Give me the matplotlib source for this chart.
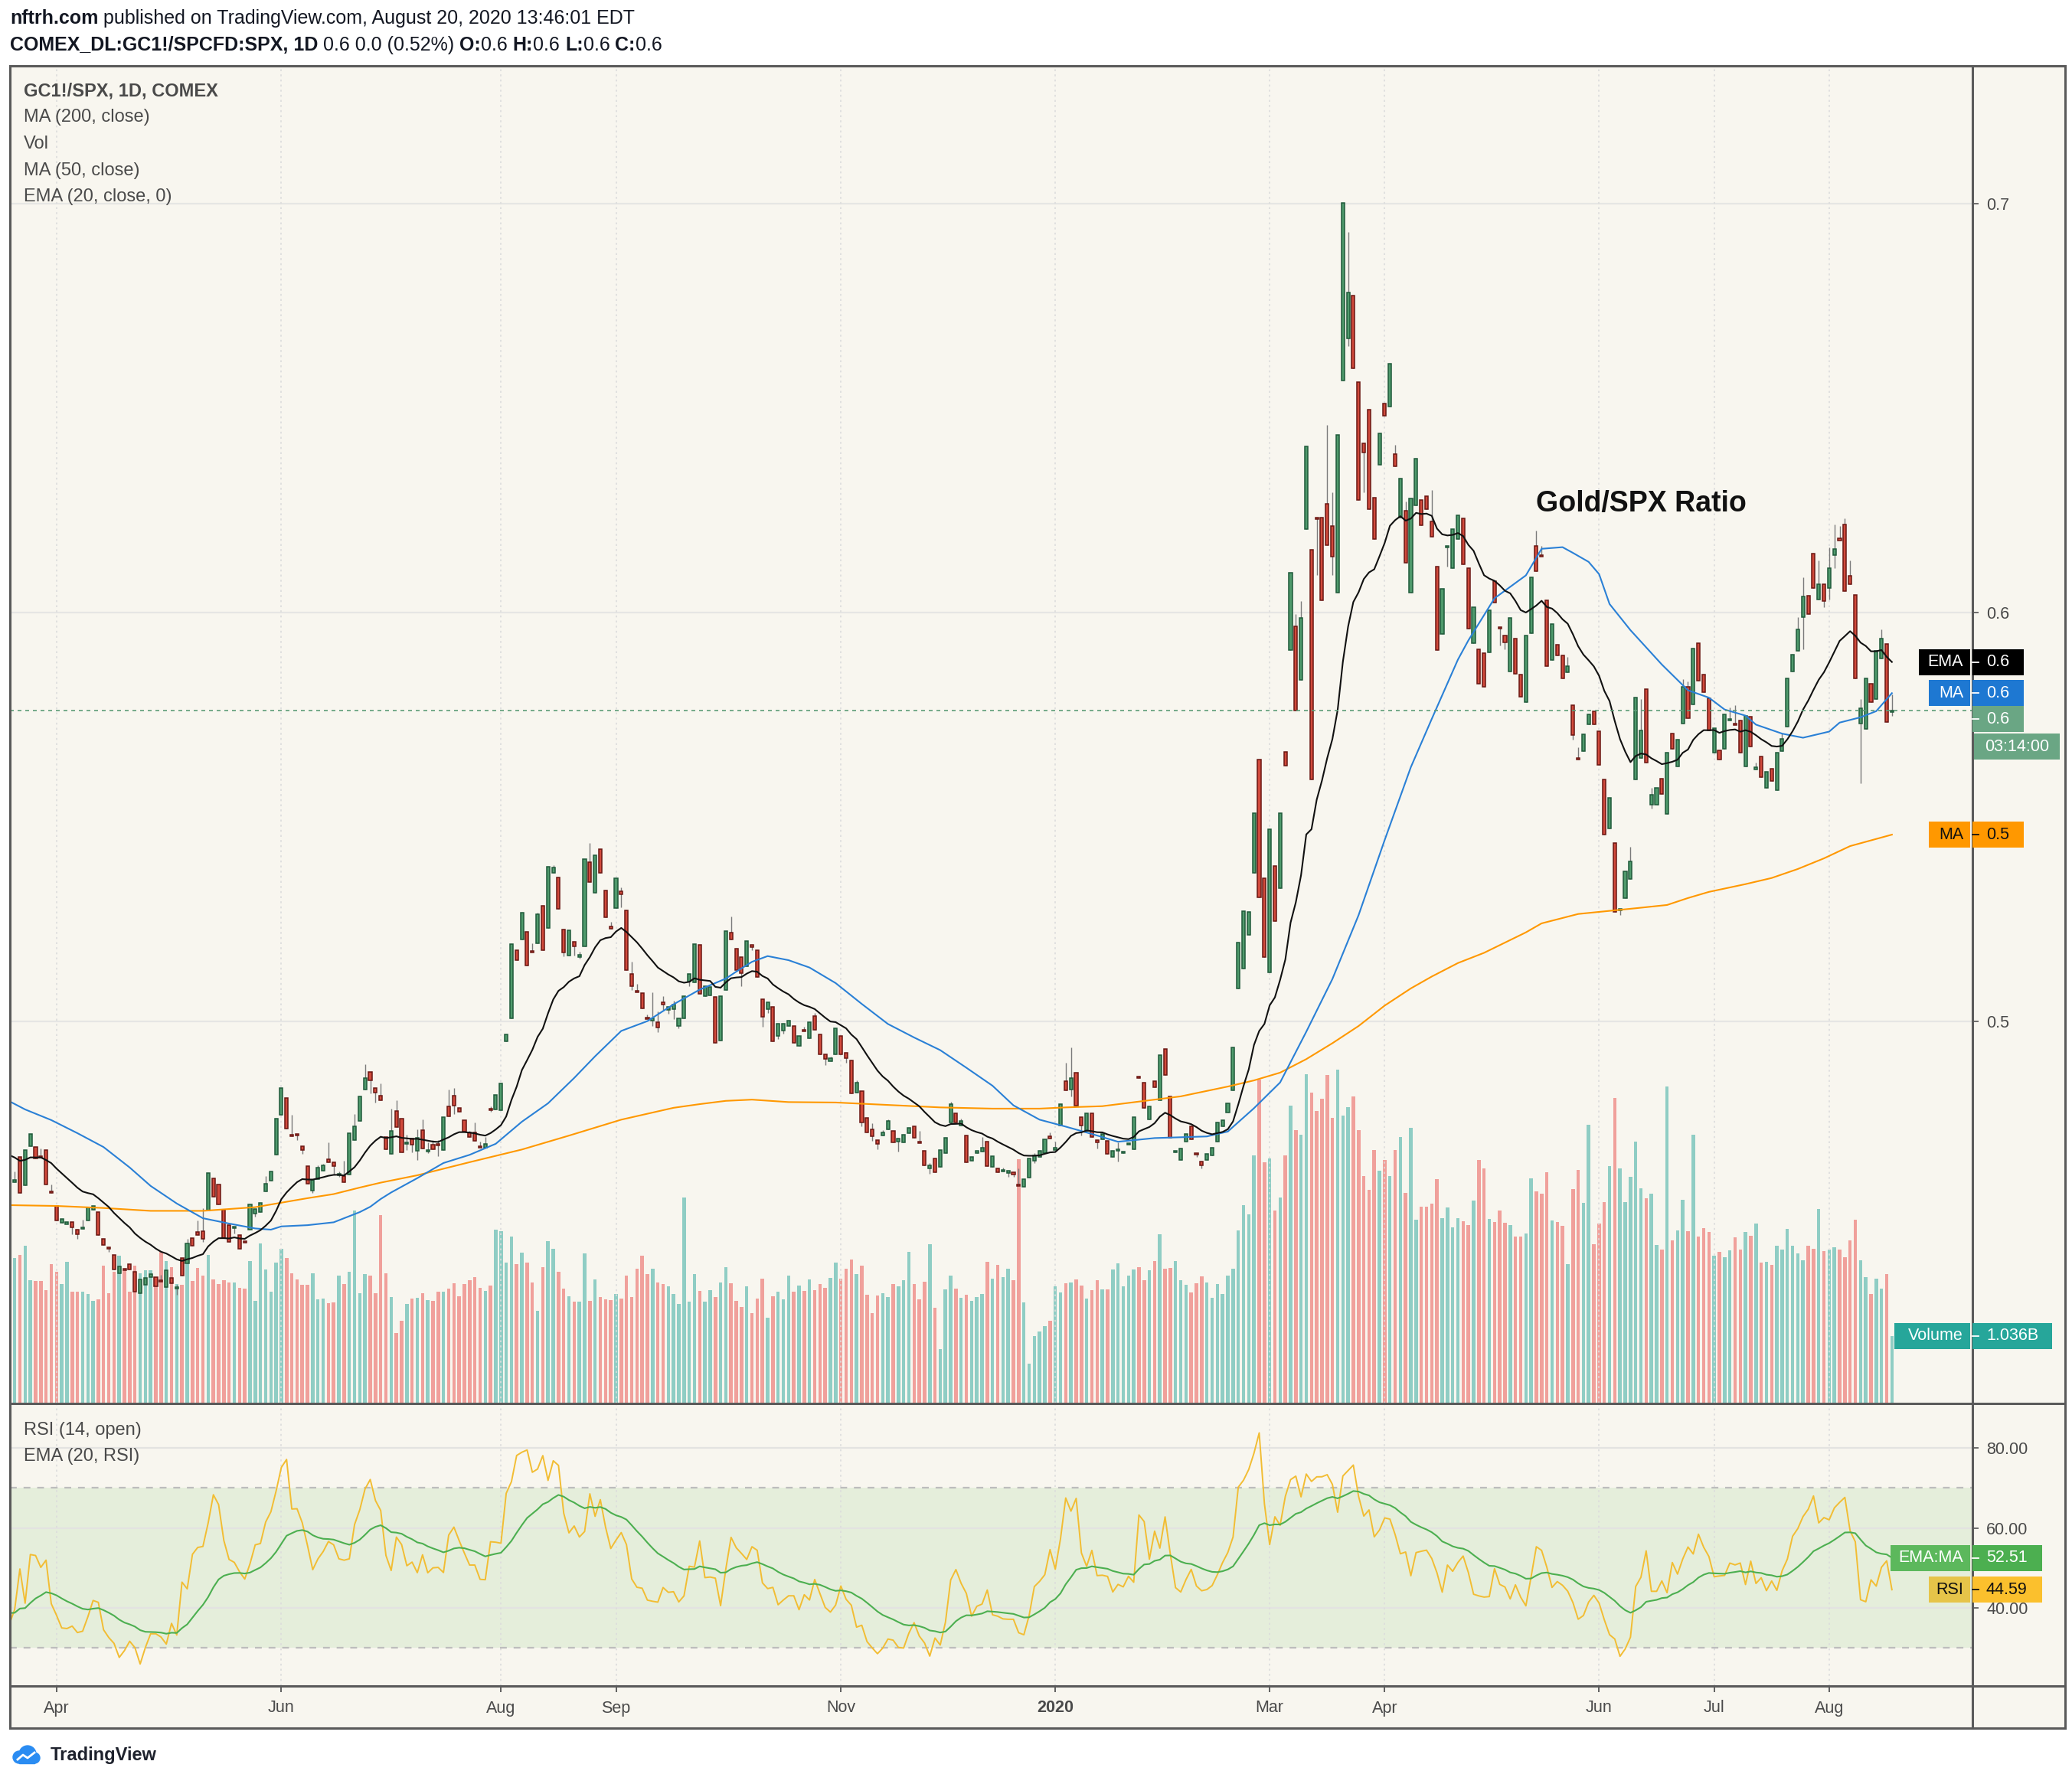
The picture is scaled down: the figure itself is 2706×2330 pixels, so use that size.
import numpy as np
import pandas as pd
import matplotlib
matplotlib.use("Agg")
import matplotlib.pyplot as plt
from matplotlib.patches import Rectangle, Circle
from matplotlib.lines import Line2D
from matplotlib import transforms

plt.rcParams['font.family'] = ['Liberation Sans', 'DejaVu Sans']

# ---- data (bars from 2019-03-19 to 2020-08-20) ----
opens = [
    0.4590, 0.4608, 0.4668, 0.4599, 0.4696, 0.4694, 0.4670, 0.4685, 0.4583, 0.4549,
    0.4508, 0.4506, 0.4510, 0.4491, 0.4493, 0.4514, 0.4539, 0.4535, 0.4469, 0.4447,
    0.4430, 0.4385, 0.4394, 0.4406, 0.4388, 0.4336, 0.4357, 0.4375, 0.4375, 0.4367,
    0.4350, 0.4374, 0.4348, 0.4422, 0.4409, 0.4471, 0.4485, 0.4487, 0.4537, 0.4616,
    0.4601, 0.4540, 0.4502, 0.4496, 0.4477, 0.4462, 0.4491, 0.4531, 0.4534, 0.4584,
    0.4611, 0.4675, 0.4772, 0.4813, 0.4722, 0.4723, 0.4695, 0.4646, 0.4586, 0.4615,
    0.4635, 0.4663, 0.4656, 0.4626, 0.4623, 0.4626, 0.4711, 0.4757, 0.4834, 0.4876,
    0.4837, 0.4818, 0.4717, 0.4676, 0.4782, 0.4762, 0.4702, 0.4713, 0.4683, 0.4735,
    0.4684, 0.4698, 0.4699, 0.4686, 0.4792, 0.4819, 0.4788, 0.4758, 0.4728, 0.4728,
    0.4693, 0.4692, 0.4786, 0.4785, 0.4783, 0.4951, 0.5007, 0.5175, 0.5201, 0.5219,
    0.5172, 0.5192, 0.5283, 0.5228, 0.5364, 0.5353, 0.5225, 0.5162, 0.5195, 0.5160,
    0.5184, 0.5389, 0.5315, 0.5421, 0.5321, 0.5233, 0.5278, 0.5319, 0.5272, 0.5117,
    0.5074, 0.5069, 0.5009, 0.5003, 0.4999, 0.5048, 0.5028, 0.5030, 0.4990, 0.5007,
    0.5098, 0.5095, 0.5187, 0.5062, 0.5064, 0.5060, 0.4954, 0.5078, 0.5217, 0.5178,
    0.5157, 0.5135, 0.5187, 0.5175, 0.5055, 0.5031, 0.5035, 0.4964, 0.4978, 0.4990,
    0.4990, 0.4940, 0.4978, 0.4960, 0.5013, 0.4968, 0.4920, 0.4903, 0.4919, 0.4964,
    0.4923, 0.4904, 0.4826, 0.4830, 0.4765, 0.4737, 0.4711, 0.4721, 0.4737, 0.4733,
    0.4707, 0.4705, 0.4727, 0.4743, 0.4705, 0.4684, 0.4640, 0.4666, 0.4644, 0.4678,
    0.4754, 0.4776, 0.4745, 0.4721, 0.4660, 0.4678, 0.4682, 0.4707, 0.4644, 0.4640,
    0.4633, 0.4632, 0.4632, 0.4600, 0.4595, 0.4619, 0.4660, 0.4668, 0.4678, 0.4719,
    0.4688, 0.4745, 0.4855, 0.4833, 0.4874, 0.4766, 0.4733, 0.4776, 0.4711, 0.4712,
    0.4709, 0.4669, 0.4685, 0.4679, 0.4700, 0.4687, 0.4864, 0.4850, 0.4760, 0.4854,
    0.4808, 0.4933, 0.4817, 0.4681, 0.4661, 0.4706, 0.4744, 0.4677, 0.4657, 0.4661,
    0.4673, 0.4706, 0.4744, 0.4777, 0.4831, 0.5081, 0.5130, 0.5212, 0.5364, 0.5640,
    0.5351, 0.5120, 0.5380, 0.5326, 0.5659, 0.5909, 0.5967, 0.5836, 0.6204, 0.6154,
    0.6232, 0.6233, 0.6266, 0.6212, 0.6048, 0.6568, 0.6670, 0.6776, 0.6564, 0.6414,
    0.6497, 0.6281, 0.6362, 0.6512, 0.6503, 0.6387, 0.6233, 0.6250, 0.6048, 0.6262,
    0.6275, 0.6285, 0.6223, 0.6112, 0.5948, 0.6160, 0.6108, 0.6179, 0.6231, 0.6108,
    0.5925, 0.5910, 0.5900, 0.5903, 0.6077, 0.5964, 0.5944, 0.5856, 0.5937, 0.5848,
    0.5782, 0.5950, 0.6163, 0.6140, 0.6031, 0.5884, 0.5921, 0.5895, 0.5854, 0.5773,
    0.5643, 0.5661, 0.5726, 0.5759, 0.5709, 0.5592, 0.5473, 0.5436, 0.5272, 0.5302,
    0.5349, 0.5592, 0.5645, 0.5813, 0.5530, 0.5530, 0.5594, 0.5508, 0.5704, 0.5623,
    0.5729, 0.5818, 0.5775, 0.5926, 0.5848, 0.5791, 0.5658, 0.5663, 0.5666, 0.5737,
    0.5727, 0.5737, 0.5623, 0.5745, 0.5618, 0.5648, 0.5572, 0.5619, 0.5566, 0.5661,
    0.5722, 0.5856, 0.5906, 0.5988, 0.6041, 0.6144, 0.6032, 0.6069, 0.6060, 0.6141,
    0.6180, 0.6215, 0.6090, 0.6044, 0.5729, 0.5715, 0.5826, 0.5788, 0.5888, 0.5924,
    0.5757,
]
closes = [
    0.4610, 0.4612, 0.4581, 0.4685, 0.4725, 0.4666, 0.4669, 0.4601, 0.4581, 0.4514,
    0.4517, 0.4508, 0.4496, 0.4480, 0.4495, 0.4545, 0.4549, 0.4477, 0.4454, 0.4445,
    0.4393, 0.4402, 0.4392, 0.4393, 0.4340, 0.4370, 0.4374, 0.4383, 0.4353, 0.4365,
    0.4392, 0.4360, 0.4349, 0.4378, 0.4457, 0.4452, 0.4477, 0.4469, 0.4630, 0.4571,
    0.4552, 0.4471, 0.4462, 0.4497, 0.4445, 0.4460, 0.4553, 0.4541, 0.4557, 0.4603,
    0.4633, 0.4762, 0.4837, 0.4739, 0.4720, 0.4722, 0.4685, 0.4604, 0.4613, 0.4642,
    0.4648, 0.4656, 0.4646, 0.4627, 0.4608, 0.4727, 0.4743, 0.4816, 0.4862, 0.4857,
    0.4827, 0.4807, 0.4687, 0.4733, 0.4742, 0.4680, 0.4703, 0.4699, 0.4716, 0.4689,
    0.4685, 0.4687, 0.4698, 0.4766, 0.4769, 0.4794, 0.4780, 0.4730, 0.4717, 0.4708,
    0.4692, 0.4701, 0.4785, 0.4821, 0.4848, 0.4969, 0.5189, 0.5151, 0.5267, 0.5137,
    0.5170, 0.5262, 0.5174, 0.5378, 0.5376, 0.5275, 0.5169, 0.5224, 0.5183, 0.5161,
    0.5398, 0.5342, 0.5407, 0.5364, 0.5255, 0.5227, 0.5351, 0.5312, 0.5126, 0.5087,
    0.5073, 0.5033, 0.5008, 0.5008, 0.4985, 0.5042, 0.5035, 0.5041, 0.5007, 0.5062,
    0.5117, 0.5189, 0.5067, 0.5087, 0.5085, 0.4948, 0.5063, 0.5221, 0.5201, 0.5125,
    0.5119, 0.5196, 0.5182, 0.5108, 0.5012, 0.5047, 0.4952, 0.4995, 0.4995, 0.5002,
    0.4948, 0.4964, 0.4977, 0.4998, 0.4979, 0.4920, 0.4909, 0.4911, 0.4984, 0.4919,
    0.4911, 0.4824, 0.4851, 0.4753, 0.4729, 0.4720, 0.4701, 0.4729, 0.4757, 0.4705,
    0.4713, 0.4723, 0.4740, 0.4715, 0.4704, 0.4648, 0.4648, 0.4632, 0.4686, 0.4715,
    0.4798, 0.4754, 0.4757, 0.4656, 0.4668, 0.4684, 0.4692, 0.4646, 0.4671, 0.4632,
    0.4636, 0.4633, 0.4626, 0.4599, 0.4615, 0.4666, 0.4672, 0.4683, 0.4712, 0.4713,
    0.4689, 0.4798, 0.4832, 0.4862, 0.4794, 0.4745, 0.4776, 0.4717, 0.4705, 0.4725,
    0.4677, 0.4683, 0.4687, 0.4681, 0.4702, 0.4767, 0.4862, 0.4789, 0.4792, 0.4840,
    0.4918, 0.4869, 0.4715, 0.4683, 0.4690, 0.4725, 0.4712, 0.4675, 0.4648, 0.4677,
    0.4692, 0.4754, 0.4758, 0.4800, 0.4937, 0.5193, 0.5270, 0.5268, 0.5509, 0.5303,
    0.5158, 0.5470, 0.5245, 0.5509, 0.5626, 0.6098, 0.5761, 0.5987, 0.6406, 0.5592,
    0.6230, 0.6031, 0.6164, 0.6137, 0.6435, 0.7001, 0.6782, 0.6597, 0.6275, 0.6391,
    0.6252, 0.6179, 0.6439, 0.6482, 0.6609, 0.6358, 0.6327, 0.6121, 0.6279, 0.6376,
    0.6214, 0.6252, 0.6185, 0.5909, 0.6058, 0.6162, 0.6204, 0.6237, 0.6118, 0.5960,
    0.6013, 0.5826, 0.5818, 0.6006, 0.6025, 0.5961, 0.5928, 0.5987, 0.5851, 0.5795,
    0.5944, 0.6087, 0.6102, 0.6138, 0.5870, 0.5972, 0.5895, 0.5840, 0.5869, 0.5700,
    0.5641, 0.5703, 0.5751, 0.5726, 0.5628, 0.5458, 0.5547, 0.5268, 0.5274, 0.5367,
    0.5392, 0.5792, 0.5712, 0.5633, 0.5554, 0.5572, 0.5557, 0.5657, 0.5666, 0.5689,
    0.5818, 0.5741, 0.5913, 0.5834, 0.5806, 0.5711, 0.5717, 0.5641, 0.5751, 0.5739,
    0.5726, 0.5657, 0.5747, 0.5672, 0.5620, 0.5598, 0.5611, 0.5589, 0.5658, 0.5692,
    0.5840, 0.5898, 0.5959, 0.6040, 0.5996, 0.6060, 0.6069, 0.6028, 0.6109, 0.6156,
    0.6178, 0.6053, 0.6069, 0.5839, 0.5766, 0.5840, 0.5781, 0.5907, 0.5937, 0.5732,
    0.5761,
]
# visible wick ends, keyed by bar number (0 = 2019-04-01)
wick_high = {
    -8: 0.4633, -3: 0.4690, -1: 0.4601, 5: 0.4516, 20: 0.4381, 23: 0.4356, 25: 0.4469,
    27: 0.4514, 28: 0.4544, 40: 0.4623, 45: 0.4772, 50: 0.4649, 51: 0.4652, 52: 0.4705,
    54: 0.4634, 55: 0.4660, 57: 0.4774, 59: 0.4896, 62: 0.4849, 64: 0.4787, 65: 0.4808,
    67: 0.4723, 69: 0.4737, 70: 0.4760, 71: 0.4705, 72: 0.4710, 73: 0.4710, 75: 0.4833,
    76: 0.4837, 79: 0.4733, 80: 0.4753, 81: 0.4706, 82: 0.4717, 83: 0.4792, 91: 0.5192,
    92: 0.5266, 95: 0.5383, 100: 0.5171, 102: 0.5437, 106: 0.5244, 108: 0.5328,
    110: 0.5146, 111: 0.5092, 113: 0.5018, 114: 0.5071, 115: 0.5024, 116: 0.5062,
    118: 0.5051, 129: 0.5257, 143: 0.4988, 145: 0.5021, 148: 0.4915, 153: 0.4856,
    156: 0.4751, 158: 0.4735, 159: 0.4761, 165: 0.4733, 167: 0.4654, 171: 0.4804,
    173: 0.4762, 177: 0.4717, 181: 0.4642, 184: 0.4641, 187: 0.4678, 190: 0.4729,
    191: 0.4707, 193: 0.4899, 194: 0.4936, 203: 0.4705, 207: 0.4868, 237: 0.5996,
    238: 0.6029, 243: 0.6458, 244: 0.6295, 247: 0.6930, 256: 0.6410, 258: 0.6272,
    263: 0.6299, 283: 0.6200, 284: 0.6163, 289: 0.5891, 291: 0.5670, 301: 0.5427,
    303: 0.5788, 305: 0.5572, 311: 0.5837, 312: 0.5832, 320: 0.5768, 321: 0.5773,
    325: 0.5633, 330: 0.5704, 333: 0.5988, 334: 0.6087, 337: 0.6128, 339: 0.6160,
    340: 0.6215, 341: 0.6212, 342: 0.6230, 343: 0.6127, 345: 0.5788, 349: 0.5959,
    351: 0.5800,
}
wick_low = {
    3: 0.4480, 4: 0.4468, 10: 0.4437, 23: 0.4331, 28: 0.4462, 34: 0.4481, 38: 0.4523,
    46: 0.4711, 47: 0.4677, 49: 0.4581, 53: 0.4626, 54: 0.4620, 60: 0.4824, 61: 0.4801,
    67: 0.4686, 68: 0.4681, 69: 0.4662, 71: 0.4678, 73: 0.4671, 76: 0.4774, 83: 0.4780,
    97: 0.5160, 99: 0.5162, 100: 0.5153, 108: 0.5280, 110: 0.5078, 114: 0.4989,
    115: 0.4974, 116: 0.5028, 117: 0.5019, 118: 0.5006, 119: 0.4983, 121: 0.5086,
    131: 0.5087, 133: 0.5175, 135: 0.4987, 136: 0.5020, 138: 0.4958, 139: 0.4970,
    147: 0.4893, 151: 0.4899, 154: 0.4743, 156: 0.4709, 157: 0.4688, 161: 0.4682,
    167: 0.4627, 182: 0.4620, 183: 0.4620, 187: 0.4653, 194: 0.4816, 196: 0.4721,
    199: 0.4689, 203: 0.4657, 218: 0.4668, 219: 0.4640, 241: 0.6092, 244: 0.6092,
    247: 0.6651, 250: 0.6295, 266: 0.6112, 276: 0.5920, 277: 0.5910, 290: 0.5690,
    299: 0.5260, 305: 0.5520, 334: 0.5910, 338: 0.6013, 339: 0.6032, 340: 0.6109,
    345: 0.5583, 351: 0.5748,
}
# volume, billions
volumes = [
    2.20, 2.24, 2.28, 2.43, 1.89, 1.88, 1.88, 1.74, 2.14, 2.02,
    1.84, 2.18, 1.72, 1.72, 1.72, 1.68, 1.58, 1.60, 2.12, 1.69,
    2.02, 2.27, 2.05, 1.72, 2.12, 2.00, 2.05, 2.05, 1.93, 2.33,
    2.19, 2.09, 1.84, 1.82, 2.21, 1.88, 2.08, 1.96, 2.28, 1.91,
    1.84, 1.89, 1.86, 1.86, 1.78, 1.77, 2.19, 1.58, 2.46, 2.06,
    1.72, 2.17, 2.38, 2.24, 2.00, 1.91, 1.83, 1.83, 2.00, 1.60,
    1.61, 1.54, 1.55, 1.96, 1.84, 2.02, 2.96, 1.70, 1.99, 1.96,
    1.69, 2.90,
    2.00, 1.63, 1.08, 1.27, 1.53, 1.61, 1.62, 1.70, 1.59, 1.58,
    1.72, 1.72, 1.77, 1.85, 1.65, 1.84, 1.89, 1.94, 1.78, 1.73,
    1.81, 2.67, 2.65, 2.17, 2.57, 2.14, 2.32, 2.17, 1.86, 1.42,
    2.09, 2.49, 2.38, 2.02, 1.76, 1.65, 1.57, 1.57, 2.31, 1.58,
    1.91, 1.64, 1.60, 1.59, 1.68, 1.61, 1.96, 1.64, 2.07, 2.27,
    1.99, 2.07, 1.86, 1.84, 1.80, 1.68, 1.53, 3.17, 1.57, 1.99,
    1.73, 1.57, 1.74, 1.64, 1.86, 2.09, 1.85, 1.58, 1.48, 1.80,
    1.39, 1.61, 1.92, 1.32, 1.65, 1.72, 1.60, 1.96, 1.72, 1.81,
    1.73, 1.91, 1.74, 1.84, 1.78, 1.93, 2.16, 1.92, 2.07, 2.21,
    1.99, 2.12, 1.67, 1.39, 1.66, 1.69, 1.64, 1.84, 1.80, 1.90,
    2.33, 1.84, 1.60, 1.87, 2.45, 1.47, 0.83, 1.75, 1.96, 1.77,
    1.62, 1.67, 1.58, 1.64, 1.68, 2.18, 1.92, 2.13, 1.94, 2.07,
    1.90, 3.75, 1.55, 0.61, 1.03, 1.11, 1.19, 1.27, 1.80, 1.71,
    1.85, 1.86, 1.91, 1.81, 1.61, 1.74, 1.90, 1.75, 1.75, 2.06,
    2.15, 1.80, 1.96, 2.06, 2.09, 1.90, 2.05, 2.19, 2.60, 2.07,
    2.08, 2.19, 1.90, 1.82, 1.71, 1.85, 1.95, 1.86, 1.62, 1.84,
    1.68, 1.97, 2.07, 2.66, 3.05, 2.91, 3.81, 4.98, 3.71, 3.77,
    2.97, 3.16, 3.81, 4.58, 4.20, 4.13, 5.06, 4.78, 4.49, 4.68,
    5.05, 4.39, 5.13, 4.43, 4.56, 4.72, 4.20, 3.50, 3.28, 3.89,
    3.58, 3.74, 3.50, 3.89, 4.10, 3.24, 4.24, 2.82, 3.03, 3.03,
    3.07, 3.45, 2.85, 3.01, 2.71, 2.85, 2.80, 2.74, 3.12, 3.74, 3.61,
    2.84, 2.79, 2.96, 2.78, 2.74, 2.56, 2.56, 2.61, 3.46, 3.26,
    3.22, 3.55, 2.81, 2.79, 2.73, 2.14, 3.29, 3.59, 3.08, 4.28,
    2.45, 2.76, 3.10, 3.65, 4.69, 3.61, 3.09, 3.48, 4.03, 3.31,
    3.15, 3.22, 2.44, 2.36, 4.87, 2.51, 2.66, 3.13, 2.65, 4.13,
    2.56, 2.69, 2.64, 2.27, 2.33, 2.25, 2.35, 2.55, 2.37, 2.64,
    2.58, 2.77, 2.17, 2.18, 2.13, 2.43, 2.37, 2.68, 2.42, 2.31,
    2.20, 2.43, 2.38, 2.99, 2.34, 2.36, 2.40, 2.37, 2.25, 2.51,
    2.83, 2.20, 1.94, 1.68, 1.92, 1.76, 1.99, 1.036,
]
# moving averages at these bar numbers
ma50_idx = [-9, -6, -1, 4, 9, 14, 18, 23, 28, 33, 38, 41, 43, 48, 53, 58, 60, 62, 64,
            69, 74, 79, 84, 89, 94, 99, 103, 108, 113, 118, 123, 128, 130, 133, 136,
            140, 144, 149, 154, 159, 164, 169, 174, 179, 183, 188, 193, 198, 203, 210,
            220, 224, 229, 234, 239, 244, 249, 254, 259, 263, 268, 270, 275, 281, 284,
            288, 290, 293, 295, 297, 301, 307, 312, 316, 319, 323, 325, 330, 334, 339,
            341, 345, 348, 351]
ma50_val = [0.4805, 0.4785, 0.4759, 0.4727, 0.4693, 0.4643, 0.4598, 0.4555, 0.4519,
            0.4506, 0.4494, 0.4491, 0.4499, 0.4502, 0.4509, 0.4534, 0.4547, 0.4566,
            0.4582, 0.4617, 0.4654, 0.4674, 0.4701, 0.4755, 0.4800, 0.4862, 0.4915,
            0.4977, 0.5001, 0.5042, 0.5078, 0.5105, 0.5122, 0.5146, 0.5160, 0.5150,
            0.5132, 0.5094, 0.5043, 0.4994, 0.4961, 0.4930, 0.4887, 0.4843, 0.4795,
            0.4760, 0.4743, 0.4725, 0.4706, 0.4715, 0.4719, 0.4731, 0.4788, 0.4851,
            0.4975, 0.5104, 0.5260, 0.5444, 0.5622, 0.5740, 0.5885, 0.5932, 0.6035,
            0.6091, 0.6156, 0.6160, 0.6146, 0.6124, 0.6094, 0.6021, 0.5957, 0.5873,
            0.5810, 0.5792, 0.5763, 0.5748, 0.5726, 0.5704, 0.5694, 0.5709, 0.5731,
            0.5744, 0.5759, 0.5803]
ma200_idx = [-9, 0, 9, 18, 28, 38, 43, 48, 53, 58, 62, 69, 79, 89, 98, 108, 118, 123,
             128, 133, 140, 149, 159, 169, 179, 188, 193, 200, 215, 224, 229, 234, 239,
             244, 249, 254, 259, 263, 268, 273, 281, 284, 291, 302, 308, 312, 316, 323,
             328, 333, 338, 343, 351]
ma200_val = [0.4551, 0.4549, 0.4544, 0.4537, 0.4537, 0.4546, 0.4557, 0.4568, 0.4578,
             0.4594, 0.4606, 0.4624, 0.4656, 0.4687, 0.4721, 0.4760, 0.4789, 0.4798,
             0.4806, 0.4809, 0.4803, 0.4802, 0.4796, 0.4790, 0.4787, 0.4787, 0.4790,
             0.4793, 0.4817, 0.4841, 0.4856, 0.4875, 0.4908, 0.4947, 0.4989, 0.5039,
             0.5081, 0.5110, 0.5143, 0.5168, 0.5218, 0.5240, 0.5263, 0.5277, 0.5285,
             0.5302, 0.5317, 0.5336, 0.5351, 0.5373, 0.5399, 0.5429, 0.5457]
ema_seed = 0.468           # EMA(20) level just before the first bar
rsi_seed = (0.0009, 0.0016)  # avg gain / avg loss before the first bar
rsi_ema_seed = 39.0
rsi_last, rsi_ema_last = 44.59, 52.51

holidays = ['2019-04-19', '2019-05-27', '2019-07-04', '2019-09-02', '2019-11-28',
            '2019-12-25', '2020-01-01', '2020-01-20', '2020-04-10', '2020-05-25',
            '2020-07-03']
month_ticks = [(2019, 4, 'Apr'), (2019, 6, 'Jun'), (2019, 8, 'Aug'), (2019, 9, 'Sep'),
               (2019, 11, 'Nov'), (2020, 1, '2020'), (2020, 3, 'Mar'), (2020, 4, 'Apr'),
               (2020, 6, 'Jun'), (2020, 7, 'Jul'), (2020, 8, 'Aug')]

# ---- derived series ----
n = min(len(opens), len(closes), len(volumes))
opens = np.array(opens[:n])
closes = np.array(closes[:n])
volumes = np.array(volumes[:n])
dates = pd.bdate_range('2019-03-19', '2020-08-20')
dates = dates[~dates.isin(pd.to_datetime(holidays))][:n]
first = int(np.searchsorted(dates, pd.Timestamp('2019-04-01')))
x = np.arange(n) - first

highs = np.maximum(opens, closes)
lows = np.minimum(opens, closes)
for k, v in wick_high.items():
    if 0 <= k + first < n:
        highs[k + first] = max(highs[k + first], v)
for k, v in wick_low.items():
    if 0 <= k + first < n:
        lows[k + first] = min(lows[k + first], v)

ema20 = []
e = ema_seed
for c in closes:
    e += (c - e) * 2.0 / 21.0
    ema20.append(e)

rsi = []
ag, al = rsi_seed
prev = opens[0]
for o in opens:
    d = o - prev
    prev = o
    ag = (ag * 13 + max(d, 0.0)) / 14.0
    al = (al * 13 + max(-d, 0.0)) / 14.0
    rsi.append(100.0 - 100.0 / (1.0 + ag / al))
rsi_ema = []
e = rsi_ema_seed
for r in rsi:
    e += (r - e) * 2.0 / 21.0
    rsi_ema.append(e)

tick_pos, tick_lab = [], []
for yy, mm, lab in month_ticks:
    hit = np.where((dates.year == yy) & (dates.month == mm))[0]
    if len(hit):
        tick_pos.append(x[hit[0]])
        tick_lab.append(lab)

# ---- figure layout (pixel geometry of the snapshot) ----
W, H = 2706, 2330
BG = '#f8f6ef'
FRAME = '#5a5a5a'
TXT = '#4a4a4a'
L, R = 13, 2576


def fy(py):
    return 1 - py / H


fig = plt.figure(figsize=(W / 100, H / 100), dpi=100, facecolor='white')
fig.add_artist(Rectangle((L / W, fy(2257)), (2697 - L) / W, (2257 - 86) / H,
                         transform=fig.transFigure, facecolor=BG, edgecolor='none', zorder=-10))

main_rect = [L / W, fy(1833), (R - L) / W, (1833 - 86) / H]
axv = fig.add_axes(main_rect)
ax = fig.add_axes(main_rect)
axr = fig.add_axes([L / W, fy(2202), (R - L) / W, (2202 - 1833) / H])

xlim = (-8.9, 366.4)
for a in (axv, ax, axr):
    a.set_xlim(*xlim)
    for s in a.spines.values():
        s.set_visible(False)
axv.set_facecolor(BG)
ax.patch.set_visible(False)
axr.set_facecolor(BG)

# volume
up = closes >= opens
axv.bar(x, volumes, width=0.66, color=np.where(up, '#8fcdc4', '#f0a09b'), linewidth=0)
axv.set_ylim(0, 20.56)
axv.set_xticks([])
axv.set_yticks([])

# price pane
ax.set_ylim(0.4066, 0.7337)
for v in (0.5, 0.6, 0.7):
    ax.axhline(v, color='#e6e6e4', lw=1.6, zorder=0.5)
for t in tick_pos:
    ax.axvline(t, color='#dcdcdc', lw=1.2, ls=(0, (1.5, 2.5)), zorder=0.5)
    axr.axvline(t, color='#dcdcdc', lw=1.2, ls=(0, (1.5, 2.5)), zorder=0.5)

ax.vlines(x, lows, highs, color='#7a7a7a', lw=1.0, zorder=2)
mid = (opens + closes) / 2
body_h = np.maximum(np.abs(closes - opens), 0.0004)
body_lo = mid - body_h / 2
ax.bar(x[up], body_h[up], bottom=body_lo[up], width=0.6, color='#4f9a6c',
       edgecolor='#1f5a3a', linewidth=1.1, zorder=3)
ax.bar(x[~up], body_h[~up], bottom=body_lo[~up], width=0.6, color='#d14a3c',
       edgecolor='#6a1612', linewidth=1.1, zorder=3)

ax.plot(ma200_idx, ma200_val, color='#ff9800', lw=1.5, zorder=4)
ax.plot(ma50_idx, ma50_val, color='#2a80d6', lw=1.5, zorder=4)
ax.plot(x, ema20, color='#111111', lw=1.5, zorder=4)
ax.axhline(closes[-1], color='#5e9c78', lw=1.2, ls=(0, (3, 3)), zorder=4)

ax.text(283, 0.6266, 'Gold/SPX Ratio', fontsize=27, fontweight='bold', color='#111111',
        ha='left', va='center', zorder=6)

ax.set_xticks([])
ax.yaxis.tick_right()
ax.set_yticks([0.5, 0.6, 0.7])
ax.set_yticklabels(['0.5', '0.6', '0.7'])
ax.tick_params(axis='y', direction='out', length=6, width=1.2, color='#555555',
               pad=7, labelsize=15.5, labelcolor=TXT)

# RSI pane
axr.set_ylim(20.5, 91.1)
axr.axhspan(30, 70, color='#e5eedb', lw=0, zorder=0.2)
for v in (40, 60, 80):
    axr.axhline(v, color='#e3e3e1', lw=1.6, zorder=0.4)
for v in (30, 70):
    axr.axhline(v, color='#bdbdbd', lw=1.6, ls=(0, (4, 4)), zorder=0.6)
axr.plot(x, rsi, color='#f2bd33', lw=1.4, zorder=3)
axr.plot(x, rsi_ema, color='#4caf50', lw=1.5, zorder=4)
axr.yaxis.tick_right()
axr.set_yticks([40, 60, 80])
axr.set_yticklabels(['40.00', '60.00', '80.00'])
axr.tick_params(axis='y', direction='out', length=6, width=1.2, color='#555555',
                pad=7, labelsize=15.5, labelcolor=TXT)
axr.set_xticks(tick_pos)
axr.set_xticklabels([])
axr.tick_params(axis='x', direction='out', length=6, width=1.3, color='#555555')
xt = transforms.blended_transform_factory(axr.transData, fig.transFigure)
for t, lab in zip(tick_pos, tick_lab):
    axr.text(t, fy(2231), lab, transform=xt, ha='center', va='center', fontsize=15.5,
             color=TXT, fontweight='bold' if lab == '2020' else 'normal', clip_on=False)

# frame and pane separators
for x0, y0, x1, y1 in [(L, 86, 2697, 86), (L, 2257, 2697, 2257), (L, 86, L, 2257),
                       (2697, 86, 2697, 2257), (L, 1833, 2697, 1833),
                       (L, 2202, 2697, 2202), (R, 86, R, 2257)]:
    fig.add_artist(Line2D([x0 / W, x1 / W], [fy(y0), fy(y1)], transform=fig.transFigure,
                          color=FRAME, lw=2.2, zorder=8))


# ---- right-hand value tags ----
def ypx(axis, val):
    return H - axis.transData.transform((0, val))[1]


def tag(yc, parts):
    for x0, x1, face, txt, tcol, kind in parts:
        fig.add_artist(Rectangle((x0 / W, fy(yc + 17)), (x1 - x0) / W, 34 / H,
                                 transform=fig.transFigure, facecolor=face,
                                 edgecolor='none', zorder=9))
        if kind == 'label':
            fig.text((x1 - 9) / W, fy(yc), txt, ha='right', va='center', fontsize=15.5,
                     color=tcol, zorder=10)
        elif kind == 'value':
            fig.add_artist(Line2D([R / W, (R + 8) / W], [fy(yc), fy(yc)],
                                  transform=fig.transFigure, color=tcol, lw=1.3, zorder=10))
            fig.text(2594 / W, fy(yc), txt, ha='left', va='center', fontsize=15.5,
                     color=tcol, zorder=10)
        else:
            fig.text((x0 + x1) / 2 / W, fy(yc), txt, ha='center', va='center',
                     fontsize=15.5, color=tcol, zorder=10)


ema_y = ypx(ax, ema20[-1])
ma50_y = max(ypx(ax, ma50_val[-1]), ema_y + 34)
px_y = max(ypx(ax, closes[-1]), ma50_y + 34)
ma200_y = max(ypx(ax, ma200_val[-1]), px_y + 70)
tag(ema_y, [(2506, 2573, '#000000', 'EMA', 'white', 'label'),
            (2576, 2643, '#000000', f'{ema20[-1]:.1f}', 'white', 'value')])
tag(ma50_y, [(2519, 2573, '#1e78d2', 'MA', 'white', 'label'),
             (2576, 2643, '#1e78d2', f'{ma50_val[-1]:.1f}', 'white', 'value')])
tag(px_y, [(2576, 2643, '#6aa684', f'{closes[-1]:.1f}', 'white', 'value')])
tag(px_y + 36, [(2578, 2690, '#6aa684', '03:14:00', 'white', 'center')])
tag(ma200_y, [(2519, 2573, '#ff9800', 'MA', '#111111', 'label'),
              (2576, 2643, '#ff9800', f'{ma200_val[-1]:.1f}', '#111111', 'value')])
tag(ypx(axv, volumes[-1]), [(2474, 2573, '#26a69a', 'Volume', 'white', 'label'),
                            (2576, 2680, '#26a69a', f'{volumes[-1]:.3f}B', 'white', 'value')])
tag(ypx(axr, rsi_ema_last), [(2469, 2573, '#5cb85c', 'EMA:MA', 'white', 'label'),
                             (2576, 2667, '#4caf50', f'{rsi_ema_last:.2f}', 'white', 'value')])
tag(ypx(axr, rsi_last), [(2519, 2573, '#e6c449', 'RSI', '#111111', 'label'),
                         (2576, 2667, '#fbc02d', f'{rsi_last:.2f}', '#111111', 'value')])


# ---- header and legends ----
def runs(px, py, parts, size, color):
    r = fig.canvas.get_renderer()
    sp = 0.278 * size * 100 / 72
    xx = px
    for txt, bold, space in parts:
        t = fig.text(xx / W, fy(py), txt, fontsize=size, color=color, ha='left',
                     va='center', fontweight='bold' if bold else 'normal')
        xx += t.get_window_extent(renderer=r).width + (sp if space else 0)


runs(13, 24, [('nftrh.com', True, True),
              ('published on TradingView.com, August 20, 2020 13:46:01 EDT', False, False)],
     18, '#131722')
runs(13, 59, [('COMEX_DL:GC1!/SPCFD:SPX, 1D', True, True), ('0.6 0.0 (0.52%)', False, True),
              ('O:', True, False), ('0.6', False, True), ('H:', True, False),
              ('0.6', False, True), ('L:', True, False), ('0.6', False, True),
              ('C:', True, False), ('0.6', False, False)], 18, '#131722')

legend = ['GC1!/SPX, 1D, COMEX', 'MA (200, close)', 'Vol', 'MA (50, close)',
          'EMA (20, close, 0)']
for k, lab in enumerate(legend):
    fig.text(31 / W, fy(119 + 34.5 * k), lab, fontsize=17, color=TXT, ha='left', va='center',
             fontweight='bold' if k == 0 else 'normal')
for k, lab in enumerate(['RSI (14, open)', 'EMA (20, RSI)']):
    fig.text(31 / W, fy(1868 + 34 * k), lab, fontsize=17, color=TXT, ha='left', va='center')

# TradingView mark
lax = fig.add_axes([14 / W, fy(2306), 40 / W, 28 / H])
lax.set_xlim(0, 40)
lax.set_ylim(0, 28)
lax.axis('off')
for cx, cy, rr in [(11, 11, 8), (22, 15, 11), (31, 10, 7)]:
    lax.add_patch(Circle((cx, cy), rr, color='#2a8cf2'))
lax.add_patch(Rectangle((11, 3), 20, 9, color='#2a8cf2'))
lax.plot([9, 16, 22, 31], [8, 14, 10, 17], color='white', lw=2)
fig.text(66 / W, fy(2292), 'TradingView', fontsize=17, fontweight='bold', color='#1e222d',
         ha='left', va='center')

fig.savefig('out.png', dpi=100, facecolor='white')
